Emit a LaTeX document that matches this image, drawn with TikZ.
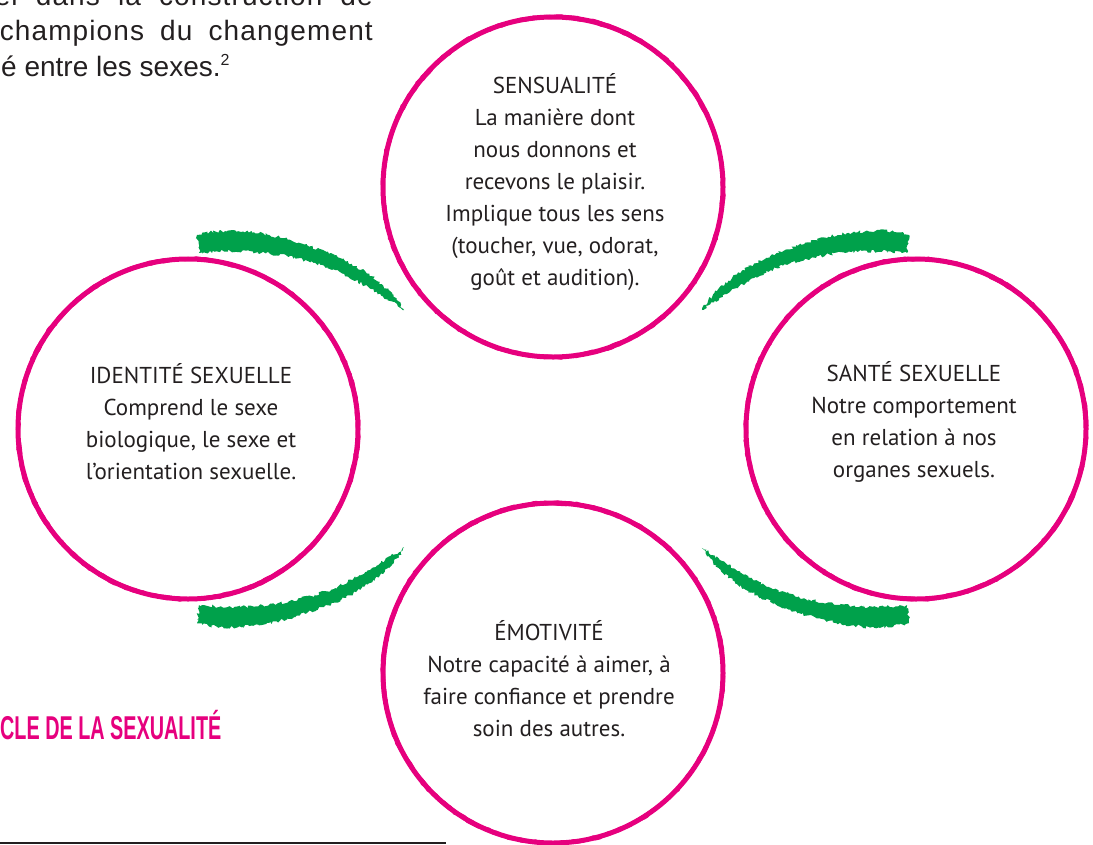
\documentclass[tikz,border=0pt]{standalone}
\usepackage{fontspec}
\setmainfont{PT Sans}
\newfontfamily\helv{Liberation Sans}
\newfontfamily\helvsp{Liberation Sans}[LetterSpace=4]
\usetikzlibrary{decorations.pathmorphing}
\definecolor{ringpink}{RGB}{230,0,126}
\definecolor{brushgreen}{RGB}{0,161,75}
\definecolor{inkgray}{RGB}{35,31,32}
\newcommand{\brushpath}{(197,235) .. controls (235,224) and (290,236) .. (340,258) .. controls (370,272) and (392,290) .. (404,310) .. controls (385,298) and (365,284) .. (335,270) .. controls (290,253) and (245,248) .. (199,253) -- cycle}
\begin{document}
\begin{tikzpicture}[x=1pt,y=-1pt,
  ring/.style={circle, draw=ringpink, line width=5pt, minimum size=340pt, inner sep=0pt},
  ringrough/.style={draw=ringpink, line width=2pt, decorate, decoration={random steps, segment length=4pt, amplitude=0.9pt}},
  circletext/.style={align=center, text=inkgray, font=\fontsize{23}{32}\selectfont},
  brush/.style={fill=brushgreen, decorate, decoration={random steps, segment length=2pt, amplitude=1.6pt}},
  bodytext/.style={text=inkgray, inner sep=0pt, font=\helv\fontsize{28}{34}\selectfont},
  bodytextsp/.style={text=inkgray, inner sep=0pt, font=\helvsp\fontsize{28}{34}\selectfont},
  titletext/.style={text=ringpink, inner sep=0pt, font=\helv\bfseries\fontsize{33}{36}\selectfont}]
\pgfmathsetseed{7}
\useasboundingbox (0,0) rectangle (1093,844);
\begin{scope}
\clip (0,0) rectangle (1093,844);
% paragraph
\node[bodytextsp, anchor=base east] (p1) at (373,5) {\makebox[378pt][s]{el dans la construction de}};
\node[bodytextsp, anchor=base east] (p2) at (373,40) {\makebox[373pt][s]{champions du changement}};
\node[bodytext, anchor=base west] (p3) at (1,76) {é entre les sexes.\raisebox{11pt}{\fontsize{16}{16}\selectfont 2}};
% title
\node[titletext, anchor=base west] (title) at (0,739) {\scalebox{0.6}[1]{CLE DE LA SEXUALITÉ}};
% bottom rule
\coordinate (r1) at (0,843);
\coordinate (r2) at (446,843);
\draw[inkgray, line width=1.5pt] (r1) -- (r2);
% rings
\node[ring] (sens) at (553,187) {};
\node[ring] (ident) at (188,429) {};
\node[ring] (sante) at (916,429) {};
\node[ring] (emo) at (553,673) {};
\foreach \c in {sens,ident,sante,emo}{
  \draw[ringrough] (\c.center) circle (171pt);
  \draw[ringrough] (\c.center) circle (169pt);
}
% green brush strokes
\fill[brush] \brushpath;
\begin{scope}[xshift=1106pt, xscale=-1]
\fill[brush] \brushpath;
\end{scope}
\begin{scope}[yshift=-858pt, yscale=-1]
\fill[brush] \brushpath;
\end{scope}
\begin{scope}[xshift=1106pt, xscale=-1, yshift=-858pt, yscale=-1]
\fill[brush] \brushpath;
\end{scope}
% texts
\node[circletext] (t1) at (555,182) {SENSUALITÉ\\La manière dont\\nous donnons et\\recevons le plaisir.\\Implique tous les sens\\(toucher, vue, odorat,\\goût et audition).};
\node[circletext] (t2) at (191,422) {IDENTITÉ SEXUELLE\\Comprend le sexe\\biologique, le sexe et\\l’orientation sexuelle.};
\node[circletext] (t3) at (914,422) {SANTÉ SEXUELLE\\Notre comportement\\en relation à nos\\organes sexuels.};
\node[circletext] (t4) at (549,679) {ÉMOTIVITÉ\\Notre capacité à aimer, à\\faire confiance et prendre\\soin des autres.};
\end{scope}
\end{tikzpicture}
\end{document}
